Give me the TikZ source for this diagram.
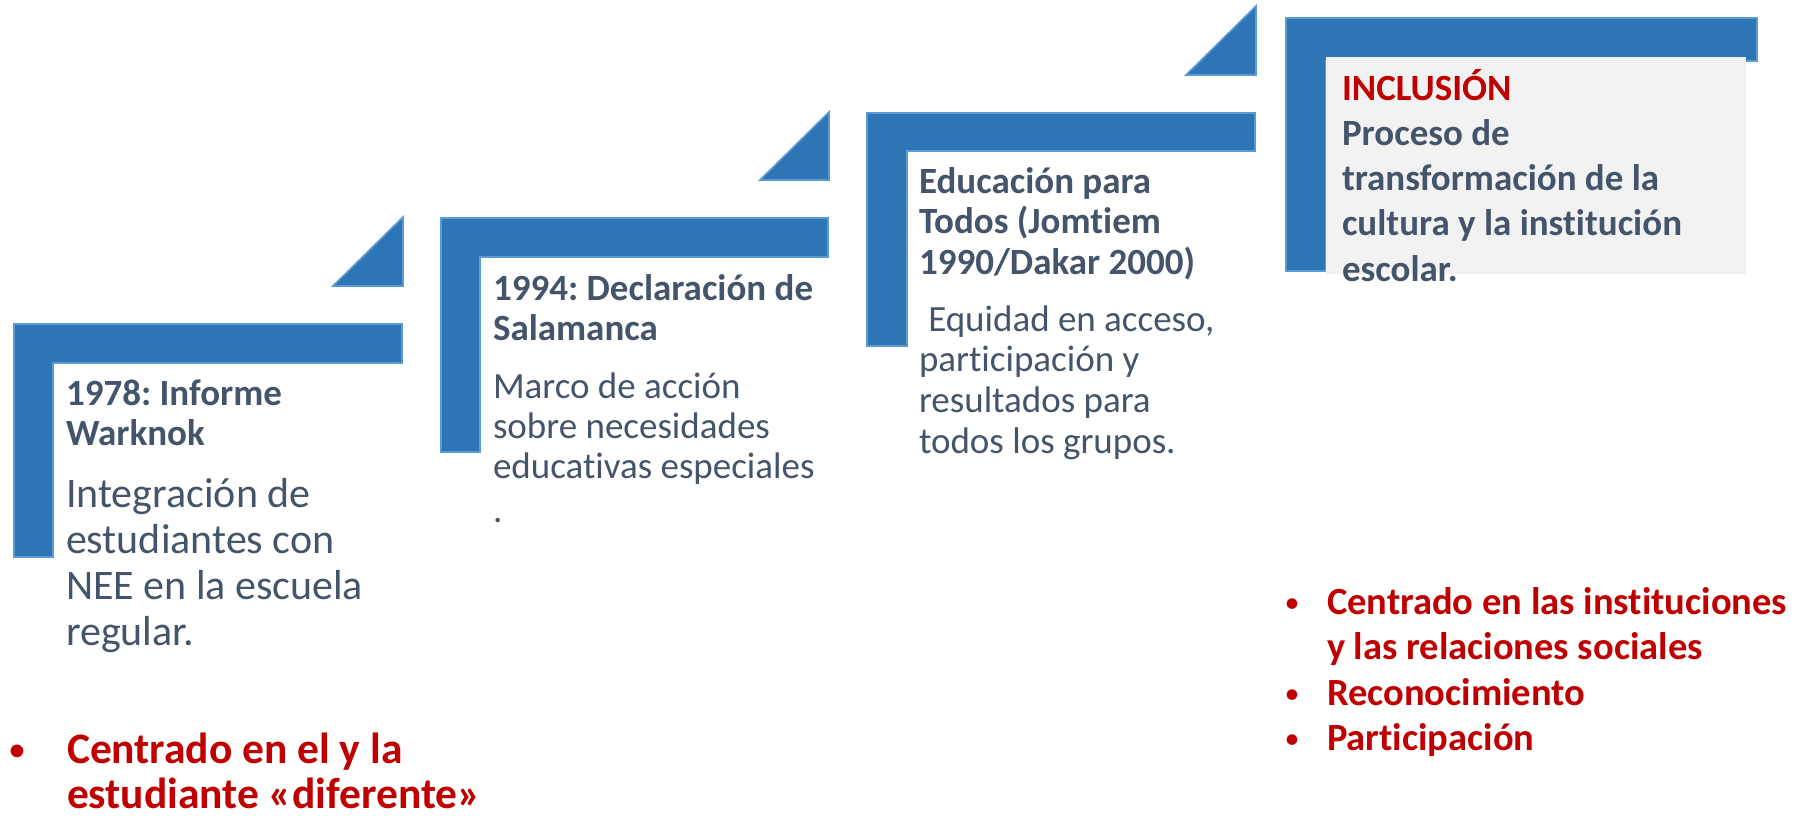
\documentclass[tikz,border=0pt]{standalone}
\usepackage{fontspec}
\setmainfont[Ligatures={NoCommon}]{Carlito}
\definecolor{stepblue}{HTML}{2E75B6}
\definecolor{stepedge}{HTML}{5B9BD5}
\definecolor{txtdark}{HTML}{44546A}
\definecolor{txtred}{HTML}{C00000}
\definecolor{boxgray}{HTML}{F2F2F2}
\newcommand{\fs}[2]{\fontsize{#1}{#2}\selectfont}
\newcommand{\tb}[2]{\parbox[t]{#1}{\raggedright #2}}
\frenchspacing
\tikzset{
  stepshape/.style={fill=stepblue, draw=stepedge, line width=1.6pt, line join=miter},
  txt/.style={inner sep=0pt, outer sep=0pt, anchor=base west, text=txtdark},
  redtxt/.style={inner sep=0pt, outer sep=0pt, anchor=base west, text=txtred, font=\bfseries},
}
\begin{document}
\begin{tikzpicture}[x=1pt,y=-1pt]
\path[use as bounding box] (0,0) rectangle (1798,816);
% step shapes
\draw[stepshape] (14,324) -- (402,324) -- (402,363) -- (53,363) -- (53,557) -- (14,557) -- cycle;
\draw[stepshape] (441,218) -- (828,218) -- (828,257) -- (480,257) -- (480,452) -- (441,452) -- cycle;
\draw[stepshape] (867,113) -- (1255,113) -- (1255,151) -- (907,151) -- (907,346) -- (867,346) -- cycle;
\draw[stepshape] (1286,18) -- (1757,18) -- (1757,61) -- (1326,61) -- (1326,271) -- (1286,271) -- cycle;
% triangles
\draw[stepshape] (333,286) -- (403,286) -- (403,217) -- cycle;
\draw[stepshape] (760,180) -- (829,180) -- (829,112) -- cycle;
\draw[stepshape] (1186,75) -- (1256,75) -- (1256,6) -- cycle;
% gray box
\fill[boxgray] (1326,57) rectangle (1746,274);

% step 1
\node[txt, font=\fs{37}{40}\bfseries] (h1) at (66,405) {\tb{400pt}{1978: Informe\\Warknok}};
\node[txt, font=\fs{42}{46}] (b1) at (66,507) {\tb{400pt}{Integración de\\estudiantes con\\NEE en la escuela\\regular.}};
% step 2
\node[txt, font=\fs{37}{40}\bfseries] (h2) at (493,300) {\tb{400pt}{1994: Declaración de\\Salamanca}};
\node[txt, font=\fs{37}{40}] (b2) at (493,398) {\tb{400pt}{Marco de acción\\sobre necesidades\\educativas especiales\\[4pt].}};
% step 3
\node[txt, font=\fs{37}{40.5}\bfseries] (h3) at (919,193) {\tb{400pt}{Educación para\\Todos (Jomtiem\\1990/Dakar 2000)}};
\node[txt, font=\fs{37}{40.7}] (b3) at (919,331) {\tb{400pt}{\hspace*{0.25em}Equidad en acceso,\\participación y\\resultados para\\todos los grupos.}};
% step 4
\node[txt, font=\fs{37}{45.3}\bfseries] (h4) at (1342,100) {\tb{440pt}{\textcolor{txtred}{INCLUSIÓN}\\Proceso de\\transformación de la\\cultura y la institución\\escolar.}};

% bullets right
\node[redtxt, font=\fs{38.5}{45.3}\bfseries] (r1) at (1327,614) {\tb{470pt}{Centrado en las instituciones\\y las relaciones sociales}};
\node[redtxt, font=\fs{38.5}{45.3}\bfseries] (r2) at (1327,705) {Reconocimiento};
\node[redtxt, font=\fs{38.5}{45.3}\bfseries] (r3) at (1327,750) {Participación};
\node[redtxt, anchor=base, font=\fs{30}{36}] (rb1) at (1292,612) {•};
\node[redtxt, anchor=base, font=\fs{30}{36}] (rb2) at (1292,703) {•};
\node[redtxt, anchor=base, font=\fs{30}{36}] (rb3) at (1292,748) {•};

% bullets left
\node[redtxt, font=\fs{43.5}{45}\bfseries] (l1) at (67,763) {\tb{500pt}{Centrado en el y la\\estudiante «diferente»}};
\node[redtxt, anchor=base, font=\fs{36}{40}] (lb1) at (17,761) {•};
\end{tikzpicture}
\end{document}
